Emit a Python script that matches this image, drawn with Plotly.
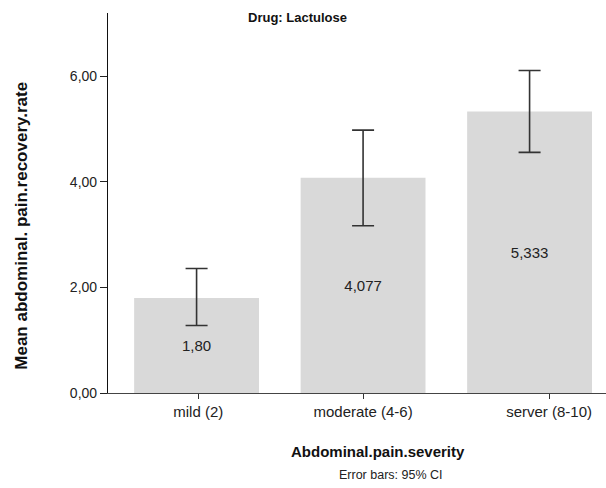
import plotly.graph_objects as go

# Mean recovery rate by pain severity, Lactulose group, with 95% CI
categories = ["mild (2)", "moderate (4-6)", "server (8-10)"]
means = [1.80, 4.077, 5.333]
mean_labels = ["1,80", "4,077", "5,333"]
ci_low = [1.28, 3.17, 4.56]
ci_high = [2.36, 4.98, 6.11]
y_ticks = [0, 2, 4, 6]

FONT = "Liberation Sans, Arial, sans-serif"

W, H = 606, 488
ML, MR, MT, MB = 108, 0, 13, 94.5
PW, PH = W - ML - MR, H - MT - MB


def px_x(px):
    """Figure pixel column -> paper x."""
    return (px - ML) / PW


def px_y(py):
    """Figure pixel row -> paper y."""
    return (H - MB - py) / PH


x_pos = list(range(len(categories)))
err_plus = [h - m for h, m in zip(ci_high, means)]
err_minus = [m - l for m, l in zip(means, ci_low)]

fig = go.Figure()
fig.add_trace(go.Bar(
    x=x_pos,
    y=means,
    width=0.75,
    marker=dict(color="#d9d9d9", line=dict(width=0)),
    text=mean_labels,
    textposition="inside",
    insidetextanchor="middle",
    textangle=0,
    textfont=dict(family=FONT, size=15, color="#222222"),
    error_y=dict(type="data", symmetric=False, array=err_plus, arrayminus=err_minus,
                 color="#333333", thickness=1.6, width=11),
    hoverinfo="skip",
))

fig.update_layout(
    width=W, height=H,
    margin=dict(l=ML, r=MR, t=MT, b=MB),
    paper_bgcolor="white", plot_bgcolor="white",
    separators=",.",
    showlegend=False,
    font=dict(family=FONT, size=14, color="#222222"),
    xaxis=dict(
        range=[-0.532, 2.459],
        tickvals=[0.01, 1.0, 2.117],
        ticktext=categories,
        ticks="outside", ticklen=5, tickcolor="#333333", tickwidth=1,
        showline=True, linecolor="#444444", linewidth=1.2,
        showgrid=False, zeroline=False,
        tickfont=dict(family=FONT, size=15, color="#222222"),
    ),
    yaxis=dict(
        range=[0, 7.2],
        tickvals=y_ticks,
        tickformat=".2f",
        ticks="outside", ticklen=7, tickcolor="#222222", tickwidth=1,
        showline=True, linecolor="#111111", linewidth=1.2,
        showgrid=False, zeroline=False,
        tickfont=dict(family=FONT, size=14, color="#222222"),
    ),
    annotations=[
        dict(text="<b>Drug: Lactulose</b>", x=px_x(297), y=px_y(18),
             xref="paper", yref="paper", showarrow=False,
             font=dict(family=FONT, size=13, color="#111111"),
             xanchor="center", yanchor="middle"),
        dict(text="<b>Abdominal.pain.severity</b>", x=px_x(378), y=px_y(452),
             xref="paper", yref="paper", showarrow=False,
             font=dict(family=FONT, size=15, color="#111111"),
             xanchor="center", yanchor="middle"),
        dict(text="Error bars: 95% CI", x=px_x(391), y=px_y(476),
             xref="paper", yref="paper", showarrow=False,
             font=dict(family=FONT, size=12.5, color="#222222"),
             xanchor="center", yanchor="middle"),
        dict(text="<b>Mean abdominal. pain.recovery.rate</b>", x=px_x(22), y=px_y(226),
             xref="paper", yref="paper", showarrow=False, textangle=-90,
             font=dict(family=FONT, size=17, color="#111111"),
             xanchor="center", yanchor="middle"),
    ],
)

fig.write_html("out.html")
